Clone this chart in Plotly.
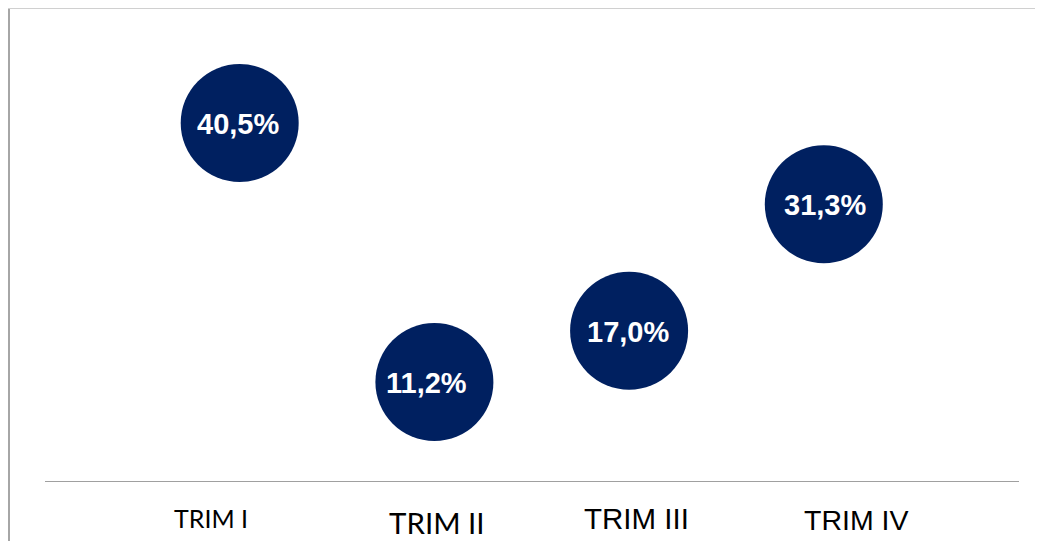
import plotly.graph_objects as go

categories = ["TRIM I", "TRIM II", "TRIM III", "TRIM IV"]
values = [40.5, 11.2, 17.0, 31.3]
tick_labels = ["TRIM I", "TRIM II", "TRIM III", "TRIM IV"]

OFF = 8  # page body margin
W, H = 1043 - OFF, 541 - OFF
x_pos = list(range(len(categories)))
bubble_text = [f"{v:.1f}%".replace(".", ",") for v in values]
label_xshift = [-2, -8, -1, 1]  # label nudges inside bubbles (px)


def px(x):
    return (x - OFF) / W


def py(y):
    return 1 - (y - OFF) / H


fig = go.Figure()
fig.add_trace(go.Scatter(
    x=x_pos, y=values, mode="markers",
    marker=dict(size=118, color="#002060", line=dict(width=0)),
    hoverinfo="skip", showlegend=False,
))
for xv, yv, t, dx in zip(x_pos, values, bubble_text, label_xshift):
    fig.add_annotation(
        x=xv, y=yv, xref="x", yref="y", text=t, showarrow=False,
        xanchor="center", yanchor="middle", xshift=dx, yshift=-1,
        font=dict(family="Liberation Sans, Arial", size=29, color="white", weight="bold"),
    )

# label styles (positions in screen pixels, fonts)
label_styles = [
    dict(px=211, py=518, family="Lato", size=25),
    dict(px=437, py=522, family="Lato", size=29.5),
    dict(px=636, py=518, family="Liberation Sans", size=29.5),
    dict(px=856, py=520, family="Liberation Sans", size=28.5),
]
for lab, st in zip(tick_labels, label_styles):
    fig.add_annotation(
        text=lab, xref="paper", yref="paper",
        x=px(st["px"]), y=py(st["py"]),
        xanchor="center", yanchor="middle", showarrow=False,
        font=dict(family=st["family"], size=st["size"], color="black"),
    )

# frame lines
fig.add_shape(type="line", xref="paper", yref="paper",
              x0=px(9), x1=px(9), y0=py(8), y1=0,
              line=dict(color="#a6a6a6", width=2))
fig.add_shape(type="line", xref="paper", yref="paper",
              x0=px(8), x1=1, y0=py(8.5), y1=py(8.5),
              line=dict(color="#d0d0d0", width=1))

fig.update_layout(
    width=W, height=H,
    margin=dict(l=0, r=0, t=0, b=0),
    paper_bgcolor="white", plot_bgcolor="white",
    xaxis=dict(domain=[px(45), px(1018.5)], range=[-1, 4],
               showgrid=False, zeroline=False, showticklabels=False,
               showline=True, linecolor="#a0a0a0", linewidth=1, ticks=""),
    yaxis=dict(domain=[py(481), py(8)], range=[0, 53.5],
               showgrid=False, zeroline=False, showticklabels=False,
               showline=False, ticks=""),
)

fig.write_html("out.html")
